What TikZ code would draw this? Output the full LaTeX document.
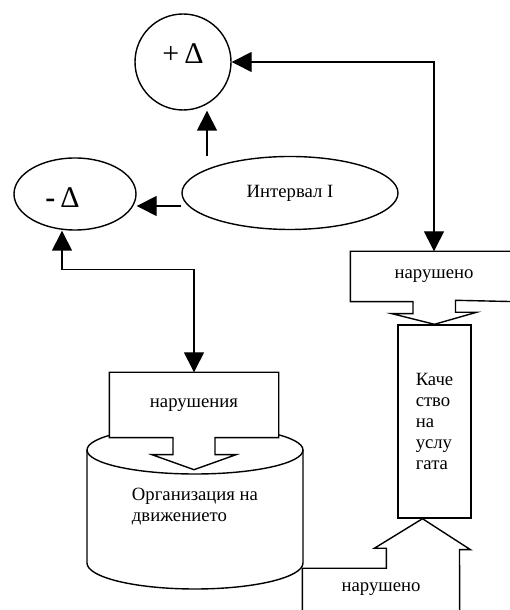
\documentclass[tikz,border=0pt]{standalone}
\usepackage{fontspec}
\setmainfont{Liberation Serif}
\usetikzlibrary{shapes.geometric,arrows.meta,calc}

\begin{document}
\begin{tikzpicture}[x=1pt,y=1pt,line width=1.4pt,
    font=\fontsize{18.7}{21}\selectfont,
    deltafont/.style={draw=none,fill=none,font=\fontsize{30}{32}\selectfont},
    oneway/.style={-{Triangle[length=20pt,width=20pt]}},
    twoway/.style={{Triangle[length=20pt,width=20pt]}-{Triangle[length=20pt,width=20pt]}}]

      \useasboundingbox (0,0) rectangle (510,610);

      % cylinder
      \draw (195,160) ellipse [x radius=108,y radius=24];
      \draw (87,160) -- (87,47) arc [start angle=180,end angle=360,x radius=108,y radius=26] -- (303,160);
      \node[align=left] (org) at (195,103) {Организация на\\движението};

      \begin{scope}[every node/.style={draw,fill=white}]
        \node[circle,minimum size=96pt,inner sep=0pt,
              label={[deltafont,yshift=8pt]center:+\,Δ}] (plus)  at (183,548) {};
        \node[ellipse,minimum width=122pt,minimum height=72pt,inner sep=0pt,
              label={[deltafont,xshift=-12.5pt,yshift=-4pt]center:{\bfseries -}\,Δ}] (minus) at (75,416) {};
        \node[ellipse,minimum width=216pt,minimum height=73pt,inner sep=0pt] (int) at (290,417) {Интервал I};
      \end{scope}

      \begin{scope}[every node/.style={fill=white,rectangle,inner sep=0pt}]
        \node[minimum width=168pt,minimum height=64pt] (viol1) at (194,205) {нарушения};
        \node[minimum width=166pt,minimum height=49pt] (viol2) at (434,333.5) {нарушено};
        \node[draw,minimum width=73pt,minimum height=193pt,align=left] (qual) at (434.5,188.5) {Каче\\ство\\на\\услу\\гата};
        \node[minimum width=156pt,minimum height=40pt] (viol3) at (381,21) {нарушено};
      \end{scope}

      % block arrows
      \draw (viol1.south west) -- (viol1.north west) -- (viol1.north east) -- (viol1.south east)
        -- ($(viol1.south)+(21,0)$) -- ++(0,-17) -- ++(21,0) -- ($(viol1.south)+(0,-32)$)
        -- ++(-42,15) -- ++(21,0) -- ++(0,17) -- cycle;
      \draw (viol2.north east) -- (viol2.north west) -- (viol2.south west)
        -- ($(viol2.south)+(-21,0)$) -- ++(0,-12) -- ++(-21,0) -- (qual.north)
        -- ++(42,12) -- ++(-21,0) -- ++(0,12) -- (viol2.south east) -- cycle;
      \draw ($(viol3.south west)+(0,-11)$) -- (viol3.north west) -- ++(84,0) -- ++(0,20) -- ++(-12,0)
        -- ($(qual.south)+(-12,0)$) -- ++(48,-31) -- ++(-11,0) -- ($(viol3.south east)+(0,-11)$);

      \begin{scope}[every edge/.style={draw,oneway}]
        \path (int.north -| 207,0) edge (plus.south -| 207,0);
        \path (int.west |- 0,404) edge (minus.east |- 0,404);
      \end{scope}

      \draw[twoway] (plus.east) -| (viol2.north);
      \draw[twoway] ($(minus.south)+(-13,0)$) -- ++(0,-39) -| (viol1.north);

\end{tikzpicture}
\end{document}
